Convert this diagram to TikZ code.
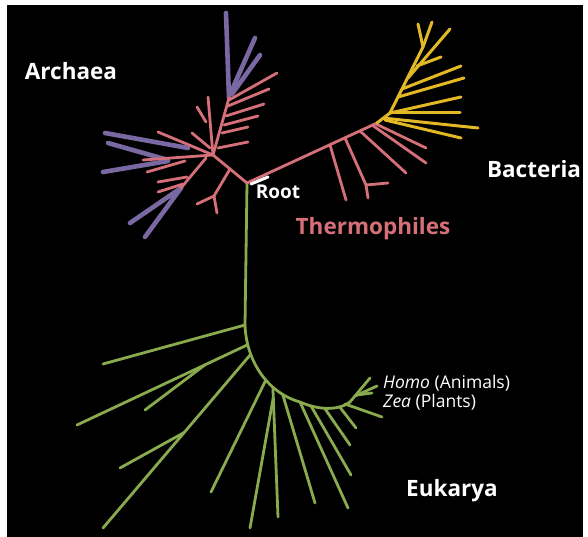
\documentclass[tikz,border=0pt]{standalone}
\usepackage{fontspec}
\setmainfont{Open Sans}
\usetikzlibrary{positioning}

\definecolor{archpurple}{RGB}{122,104,162}
\definecolor{thermopink}{RGB}{214,112,120}
\definecolor{bactyellow}{RGB}{226,184,36}
\definecolor{eukgreen}{RGB}{138,170,78}

\begin{document}
\begin{tikzpicture}[x=1pt,y=-1pt,line cap=round,
  pinkbr/.style={draw=thermopink,line width=2.8pt},
  purplebr/.style={draw=archpurple,line width=4.6pt},
  yellowbr/.style={draw=bactyellow,line width=3pt},
  greenbr/.style={draw=eukgreen,line width=2.8pt},
  domainlbl/.style={text=white,inner sep=0pt,font=\fontsize{22.5}{26}\selectfont\bfseries},
  taxon/.style={text=white,inner sep=0pt,anchor=west,font=\fontsize{17.5}{20}\selectfont}]
\useasboundingbox (0,0) rectangle (588,537);
\fill[white] (0,0) rectangle (588,537);
\fill[black] (7,5) rectangle (583,537);

% branch points
\coordinate (root) at (247,183);
\coordinate (hub) at (213,155);
\coordinate (bj) at (377,123);
\coordinate (ys) at (390,113);
\coordinate (yt) at (423,47);
\coordinate (ua) at (229,98);
\coordinate (al) at (181,188);
\coordinate (ay) at (214,196);
\coordinate (e1) at (245,325);
\coordinate (e5) at (300,402);
\coordinate (e10) at (350,402);
\coordinate (hz) at (370,378);

% Eukarya
\draw[greenbr] (root) -- (e1)
  .. controls (246,358) and (265,392) .. (e5)
  coordinate[pos=0.2] (eb1) coordinate[pos=0.3] (eb2)
  coordinate[pos=0.6] (eb3) coordinate[pos=0.7] (eb4)
  coordinate[pos=0.82] (eb5)
  .. controls (318,410) and (338,411) .. (e10)
  coordinate[pos=0.2] (ec1) coordinate[pos=0.45] (ec2)
  coordinate[pos=0.75] (ec3)
  -- (hz);
\draw[greenbr] (e1) -- (103,364);
\draw[greenbr] (eb1) -- coordinate[pos=0.25] (f1) (77,425);
\draw[greenbr] (f1) -- (145,410);
\draw[greenbr] (eb2) -- coordinate[pos=0.45] (f2) (103,528);
\draw[greenbr] (f2) -- (120,468);
\draw[greenbr] (eb3) -- (211,492);
\draw[greenbr] (eb4) -- coordinate[pos=0.08] (f4) (278,517);
\draw[greenbr] (f4) -- (250,528);
\draw[greenbr] (eb5) -- (315,503);
\draw[greenbr] (e5) -- (348,508);
\draw[greenbr] (ec1) -- (351,475);
\draw[greenbr] (ec2) -- (350,445);
\draw[greenbr] (ec3) -- (356,428);
\draw[greenbr] (355,396) -- (377,386);
\draw[greenbr] (357,395) -- (372,393);
\draw[greenbr] (345,404) -- (382,417);

% Bacteria
\draw[pinkbr] (root) -- (bj);
\draw[pinkbr] (330,145) -- (346,200);
\draw[pinkbr] (345,138) -- (366,185) -- (368,198);
\draw[pinkbr] (366,185) -- (388,183);
\draw[pinkbr] (360,131) -- (406,173);
\draw[pinkbr] (372,125) -- (426,163);
\draw[pinkbr] (376,124) -- (426,148);
\draw[yellowbr] (bj) -- (ys) -- (yt) -- (432,22);
\draw[yellowbr] (yt) -- (418,24);
\draw[yellowbr] (408,78) -- (450,29);
\draw[yellowbr] (417,66) -- (441,57);
\draw[yellowbr] (402,89) -- (461,66);
\draw[yellowbr] (398,97) -- (464,78);
\draw[yellowbr] (ys) -- (461,97);
\draw[yellowbr] (ys) -- (460,113);
\draw[yellowbr] (383,118) -- (478,128);
\draw[yellowbr] (385,120) -- (461,138);

% Archaea
\draw[purplebr] (ua) -- (226,13);
\draw[purplebr] (231,92) -- (255,38);
\draw[purplebr] (232,94) -- (260,55);
\draw[purplebr] (105,133) -- (188,148);
\draw[purplebr] (108,143) -- (168,160);
\draw[purplebr] (103,172) -- (168,161);
\draw[purplebr] (al) -- (130,223);
\draw[purplebr] (al) -- (145,237);
\draw[pinkbr] (root) -- (hub) -- (ua);
\draw[pinkbr] (229,100) -- (277,73);
\draw[pinkbr] (228,106) -- (269,89);
\draw[pinkbr] (226,116) -- (264,104);
\draw[pinkbr] (224,125) -- (258,116);
\draw[pinkbr] (222,133) -- (248,127);
\draw[pinkbr] (218,148) -- (248,142);
\draw[pinkbr] (hub) -- (208,97);
\draw[pinkbr] (206,122) -- (197,107);
\draw[pinkbr] (210,148) -- (192,133);
\draw[pinkbr] (hub) -- (158,132);
\draw[pinkbr] (hub) -- (143,160);
\draw[pinkbr] (185,161) -- (147,172);
\draw[pinkbr] (206,158) -- (al);
\draw[pinkbr] (187,177) -- (158,182);
\draw[pinkbr] (183,184) -- (158,192);
\draw[pinkbr] (230,169) -- (ay) -- (197,204);
\draw[pinkbr] (ay) -- (217,213);
\draw[white,line width=3pt] (251,184) -- (268,177);

% labels
\node[domainlbl] (archaea) at (71,71) {Archaea};
\node[domainlbl] (bacteria) at (534,169) {Bacteria};
\node[domainlbl] (eukarya) at (452,491) {Eukarya};
\node[domainlbl,text=thermopink] (thermo) at (373,229) {Thermophiles};
\node[domainlbl,font=\fontsize{19}{22}\selectfont\bfseries] (rootlbl) at (278,192) {Root};
\node[taxon] (homo) at (383,383) {\textit{Homo} (Animals)};
\node[taxon] (zea) at (383,402) {\textit{Zea} (Plants)};
\end{tikzpicture}
\end{document}
